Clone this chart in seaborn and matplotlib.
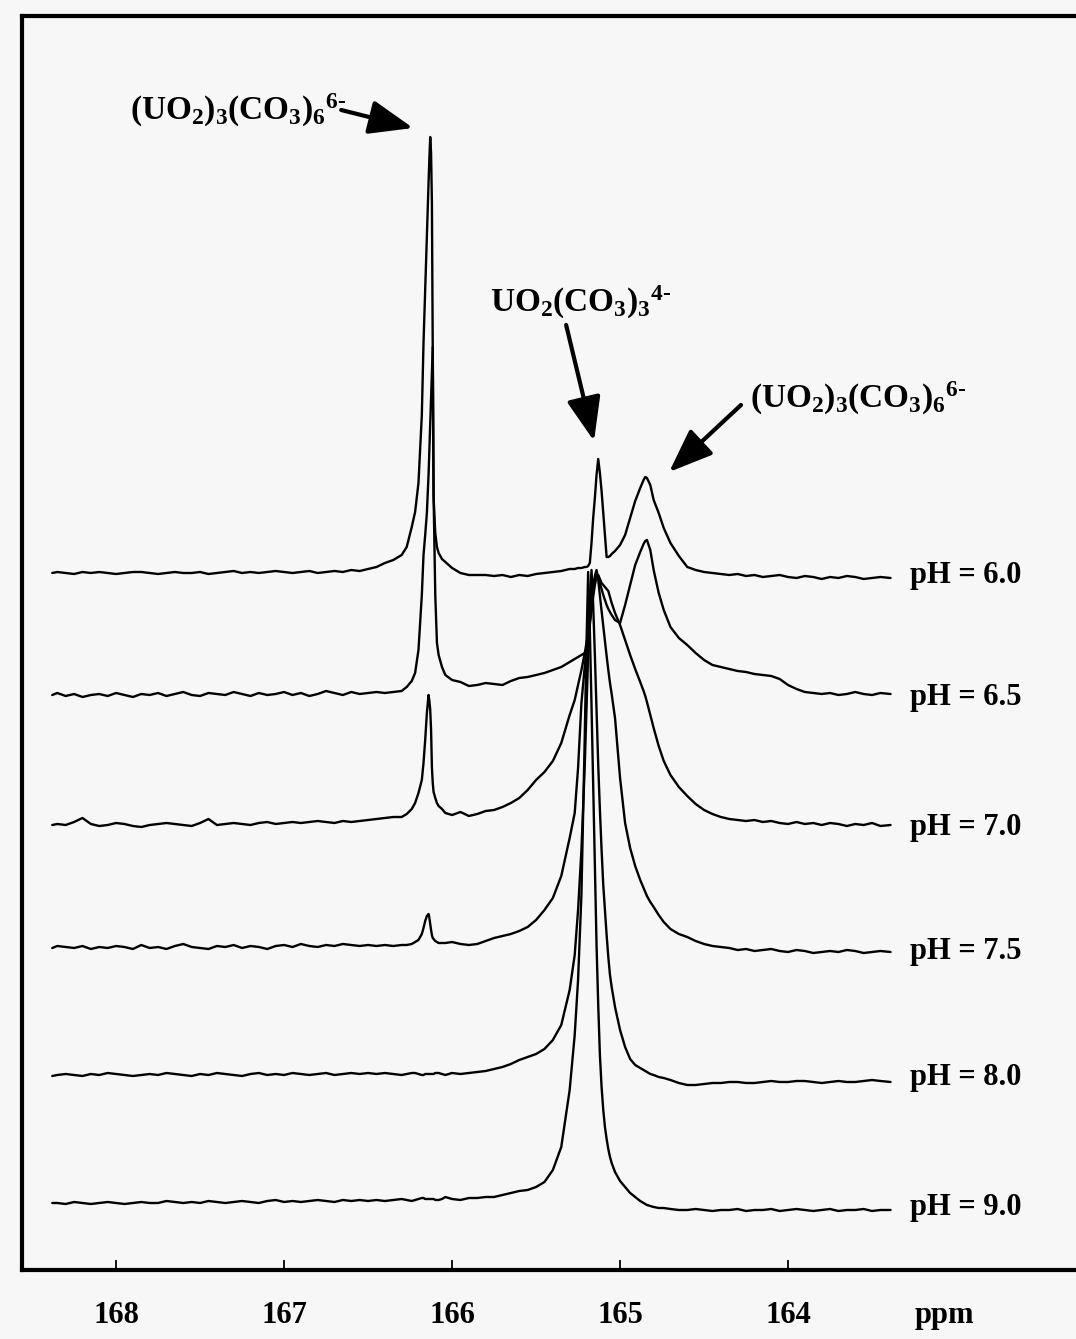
import numpy as np
import pandas as pd
import matplotlib
matplotlib.use("Agg")
import matplotlib.pyplot as plt
import seaborn as sns

# ---------------- data (chemical shift grid, ppm) ----------------
ppm = [
    168.38, 168.35, 168.3, 168.25, 168.2, 168.15, 168.1, 168.05, 168.0, 167.95,
    167.9, 167.85, 167.8, 167.75, 167.7, 167.65, 167.6, 167.55, 167.5, 167.45,
    167.4, 167.35, 167.3, 167.25, 167.2, 167.15, 167.1, 167.05, 167.0, 166.95,
    166.9, 166.85, 166.8, 166.75, 166.7, 166.65, 166.6, 166.55, 166.5,
    166.45, 166.4, 166.35, 166.3, 166.27, 166.24, 166.22, 166.2, 166.18, 166.17,
    166.16, 166.15, 166.14, 166.135, 166.13, 166.125, 166.12, 166.115, 166.11, 166.1,
    166.09, 166.08, 166.06, 166.04, 166.0, 165.95, 165.9,
    165.85, 165.8, 165.75, 165.7, 165.65, 165.6, 165.55, 165.5, 165.45, 165.4,
    165.35, 165.3, 165.27, 165.25, 165.23, 165.21, 165.2, 165.19, 165.18, 165.17,
    165.16, 165.15, 165.14, 165.13, 165.12, 165.11, 165.1, 165.09, 165.08, 165.07,
    165.06, 165.05, 165.03, 165.0,
    164.97, 164.94, 164.91, 164.88, 164.86, 164.85, 164.84, 164.82, 164.8, 164.77,
    164.74, 164.7, 164.65, 164.6, 164.55, 164.5, 164.45, 164.4,
    164.35, 164.3, 164.25, 164.2, 164.15, 164.1, 164.05, 164.0, 163.95, 163.9,
    163.85, 163.8, 163.75, 163.7, 163.65, 163.6, 163.55, 163.5, 163.45, 163.39,
]

# intensities (arbitrary units, relative to each spectrum's own baseline)
ph60 = [
    0, 1, 0, -1, 1, 0, 1, 0, -1, 0, 1, 1, 0, -1, 0, 1, 0, 0, 1, -1,
    0, 1, 2, 0, 1, 0, 1, 2, 1, 0, 1, 2, 0, 1, 2, 1, 3, 2, 4,
    6, 10, 13, 18, 26, 46, 61, 90, 158, 230, 284, 337, 390, 415, 436, 420,
    370, 226, 76, 40, 26, 20, 14, 11, 5, 0, -2,
    -2, -2, -3, -2, -4, -2, -3, -1, 0, 1, 2, 4, 4, 5, 5, 6, 6, 7, 10, 30,
    55, 75, 98, 114, 100, 82, 60, 38, 16, 16, 17, 19, 22, 28,
    38, 55, 72, 85, 93, 96, 95, 88, 73, 60, 45, 30, 17, 6, 3, 1, 0, -1,
    -2, -1, -3, -2, -4, -3, -2, -4, -5, -3, -4, -6, -4, -5, -3, -4, -6, -5, -4, -5,
]
ph65 = [
    0, 2, -1, 1, -2, 0, 1, -1, 2, 0, -2, 1, 0, 2, -1, 1, 3, 0, -1, 2,
    1, 0, 3, 1, -1, 2, 0, 1, 3, 0, 2, -1, 1, 4, 2, 0, 3, 1, 2,
    3, 2, 3, 4, 8, 14, 22, 45, 100, 140, 160, 182, 220, 245, 270, 295,
    320, 348, 200, 100, 52, 40, 28, 20, 15, 13, 9,
    10, 12, 11, 10, 14, 17, 18, 20, 22, 25, 28, 33, 36, 38, 40, 42, 45, 55, 70, 88,
    105, 116, 122, 118, 112, 106, 100, 95, 90, 86, 83, 80, 75, 72,
    90, 110, 130, 143, 151, 154, 155, 145, 125, 102, 85, 68, 57, 50, 42, 35, 30, 28,
    26, 24, 23, 21, 20, 19, 16, 10, 6, 3, 2, 1, 2, 0, 1, 3, 1, 0, 2, 1,
]
ph70 = [
    0, 1, 0, 3, 7, 1, -1, 0, 2, 1, -1, -2, 0, 1, 2, 1, 0, -1, 2, 6,
    0, 1, 2, 1, 0, 2, 3, 1, 2, 3, 2, 3, 4, 3, 2, 4, 3, 4, 5,
    6, 7, 8, 8, 11, 16, 22, 32, 45, 62, 85, 112, 130, 124, 115, 95,
    58, 42, 33, 27, 22, 19, 16, 12, 10, 13, 9,
    11, 14, 15, 18, 22, 27, 35, 45, 53, 64, 82, 110, 125, 140, 155, 172, 182, 192, 203, 215,
    228, 240, 248, 250, 246, 242, 240, 238, 236, 234, 228, 222, 212, 200,
    185, 170, 156, 143, 134, 129, 123, 110, 97, 79, 64, 50, 38, 29, 21, 15, 11, 8,
    6, 5, 4, 5, 3, 4, 2, 1, 3, 1, 2, 0, 2, 1, -1, 1, 0, 2, -1, 0,
]
ph75 = [
    0, 2, 1, 0, 2, -1, 1, 0, 2, 1, -1, 3, 0, 1, -1, 2, 4, 1, 0, -1,
    2, 1, 3, 0, 2, 1, -1, 2, 3, 1, 4, 2, 1, 3, 2, 4, 3, 2, 3,
    2, 3, 2, 3, 3, 4, 6, 8, 14, 20, 27, 32, 34, 30, 24, 18,
    13, 10, 9, 7, 6, 5, 5, 5, 6, 4, 3,
    4, 7, 10, 12, 14, 17, 21, 28, 38, 50, 72, 110, 135, 180, 245, 282, 298, 314, 330, 346,
    362, 372, 378, 368, 352, 337, 322, 307, 292, 278, 265, 254, 230, 170,
    125, 100, 82, 68, 60, 56, 52, 46, 41, 33, 26, 19, 14, 11, 7, 4, 2, 1,
    0, -2, -1, -3, -2, -1, -3, -4, -2, -3, -5, -4, -3, -4, -2, -3, -5, -4, -3, -4,
]
ph80 = [
    -1, 0, 1, 0, -1, 1, 0, 2, 1, 0, -1, 0, 1, 0, 2, 1, 0, -1, 1, 0,
    2, 1, 0, -1, 1, 2, 0, 1, 0, 2, 1, 0, 1, 2, 0, 1, 2, 1, 2,
    1, 2, 1, 0, 1, 2, 2, 1, 0, 0, 1, 1, 1, 1, 1, 1,
    1, 1, 1, 2, 2, 2, 1, 0, 2, 1, 2,
    3, 4, 6, 8, 11, 15, 18, 21, 26, 35, 50, 85, 120, 165, 225, 310, 365, 420, 470, 505,
    470, 420, 365, 310, 265, 225, 190, 165, 140, 118, 100, 88, 68, 45,
    28, 16, 10, 7, 5, 4, 3, 1, 0, -2, -3, -5, -8, -10, -10, -9, -8, -8,
    -7, -7, -8, -8, -7, -6, -7, -7, -6, -6, -7, -8, -7, -6, -7, -7, -6, -5, -6, -7,
]
ph90 = [
    2, 2, 1, 3, 2, 1, 2, 3, 2, 1, 2, 3, 2, 2, 4, 3, 2, 3, 2, 4,
    3, 2, 3, 4, 3, 2, 4, 5, 3, 4, 3, 4, 5, 4, 3, 5, 4, 5, 4,
    5, 4, 5, 6, 5, 4, 5, 6, 7, 7, 6, 6, 6, 6, 6, 6,
    6, 6, 6, 5, 5, 5, 6, 8, 6, 5, 7,
    7, 8, 8, 10, 12, 14, 15, 18, 23, 35, 58, 115, 170, 225, 310, 470, 560, 633, 575, 500,
    420, 340, 260, 200, 150, 118, 95, 78, 66, 56, 48, 42, 33, 24,
    18, 12, 8, 4, 2, 1, 0, -1, -2, -3, -3, -4, -5, -5, -4, -5, -6, -5,
    -5, -4, -6, -5, -5, -4, -6, -5, -4, -5, -6, -5, -4, -6, -5, -5, -4, -6, -5, -5,
]

ph_labels = ["pH = 6.0", "pH = 6.5", "pH = 7.0", "pH = 7.5", "pH = 8.0", "pH = 9.0"]
tick_values = [168, 167, 166, 165, 164]
tick_labels = ["168", "167", "166", "165", "164"]

# ---------------- layout constants ----------------
offsets = [697, 575, 445, 322, 195, 65]     # vertical stacking of the spectra
bg = "#f7f7f7"

sns.set_style("white")
plt.rcParams["font.family"] = ["Liberation Serif", "DejaVu Serif"]
plt.rcParams["font.weight"] = "bold"
plt.rcParams["text.color"] = "black"
plt.rcParams["xtick.color"] = "black"
plt.rcParams["mathtext.fontset"] = "custom"
plt.rcParams["mathtext.rm"] = "Liberation Serif:bold"
plt.rcParams["mathtext.it"] = "Liberation Serif:bold"
plt.rcParams["mathtext.bf"] = "Liberation Serif:bold"

traces = [ph60, ph65, ph70, ph75, ph80, ph90]
frames = []
for lab, vals, off in zip(ph_labels, traces, offsets):
    assert len(vals) == len(ppm), (lab, len(vals), len(ppm))
    frames.append(pd.DataFrame({"ppm": ppm, "y": np.array(vals, float) + off, "pH": lab}))
df = pd.concat(frames, ignore_index=True)

fig = plt.figure(figsize=(10.76, 13.39), dpi=100, facecolor=bg)
ax = fig.add_axes([22 / 1076, 69 / 1339, 1054 / 1076, 1254 / 1339])
ax.set_facecolor(bg)

sns.lineplot(data=df, x="ppm", y="y", hue="pH", palette=["black"] * 6,
             legend=False, sort=False, estimator=None, linewidth=1.7, ax=ax)

ax.set_xlim(168.56, 162.286)
ax.set_ylim(0, 1254)
ax.set_xlabel("")
ax.set_ylabel("")
ax.set_yticks([])

ax.set_xticks(tick_values + [163.07])
ax.set_xticklabels(tick_labels + ["ppm"], fontsize=22, fontweight="bold", color="black")
ax.tick_params(axis="x", direction="in", length=7, width=1.3, pad=22,
               bottom=True, top=False, colors="black")
ax.xaxis.get_major_ticks()[-1].tick1line.set_visible(False)

for side in ["left", "top", "bottom"]:
    ax.spines[side].set_visible(True)
    ax.spines[side].set_color("black")
    ax.spines[side].set_linewidth(3)
ax.spines["right"].set_visible(False)

# pH labels
for lab, off in zip(ph_labels, offsets):
    ax.text(163.274, off - 3, lab, fontsize=22, fontweight="bold",
            ha="left", va="center", color="black")

# species annotations
arrow = dict(arrowstyle="-|>,head_length=0.9,head_width=0.35", lw=3,
             color="black", mutation_scale=30, shrinkA=0, shrinkB=0)
trimer = r"$(UO_2)_3(CO_3)_6{}^{6\text{-}}$"
monomer = r"$UO_2(CO_3)_3{}^{4\text{-}}$"

ax.text(167.917, 1150, trimer, fontsize=24, ha="left", va="baseline", color="black")
ax.annotate("", xy=(166.232, 1142), xytext=(166.66, 1160), arrowprops=arrow)

ax.text(165.774, 958, monomer, fontsize=24, ha="left", va="baseline", color="black")
ax.annotate("", xy=(165.155, 829), xytext=(165.321, 945), arrowprops=arrow)

ax.text(164.226, 862, trimer, fontsize=24, ha="left", va="baseline", color="black")
ax.annotate("", xy=(164.708, 798), xytext=(164.280, 865), arrowprops=arrow)

fig.savefig("out.png", dpi=100, facecolor=bg)
